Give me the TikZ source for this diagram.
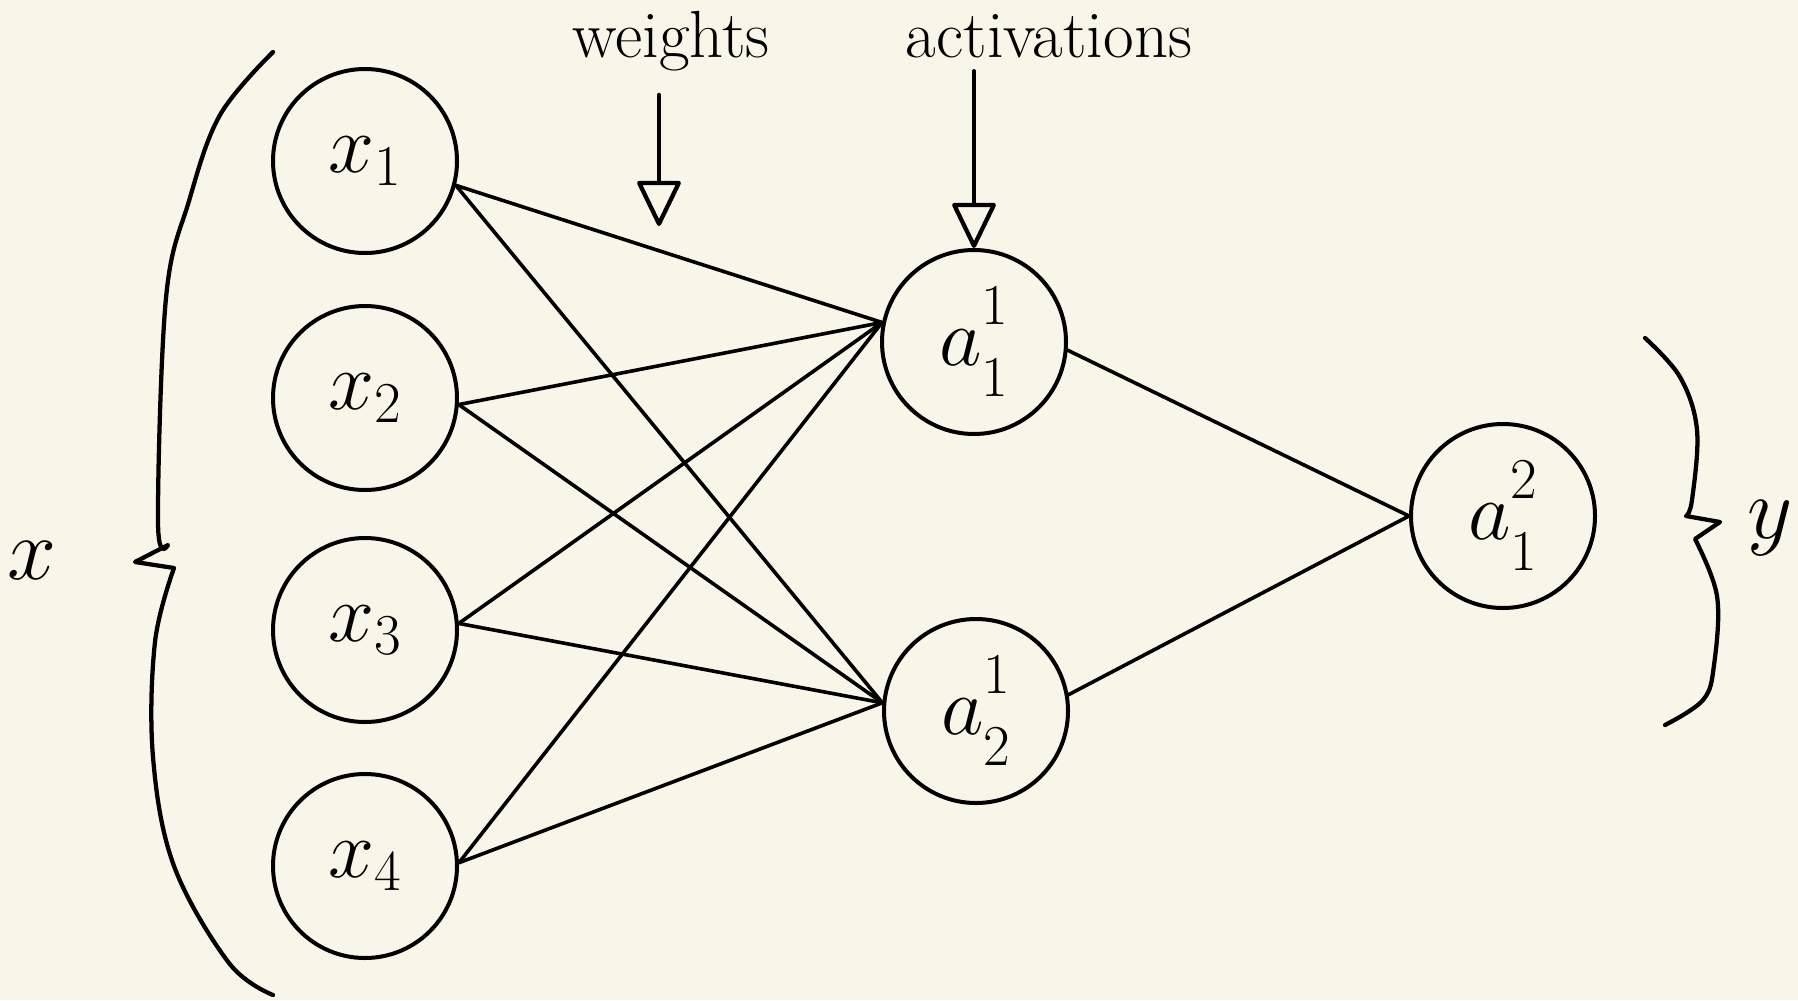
\RequirePackage{fix-cm}
\documentclass[tikz,border=0pt]{standalone}
\usetikzlibrary{arrows.meta}
\definecolor{paper}{RGB}{248,246,233}
\newcommand{\actlabel}[3]{$#1^{\raisebox{8pt}{$\scriptstyle #2$}}_{\raisebox{-8pt}{$\scriptstyle #3$}}$}
\tikzset{
  neuron/.style={circle, draw, line width=3pt, minimum size=138pt, inner sep=0pt, font=\fontsize{62}{66}\selectfont},
  link/.style={line width=2.7pt, line cap=round},
  brace/.style={line width=3.2pt, line cap=round, line join=round},
  pointer/.style={line width=3.2pt, line cap=round, -{Triangle[open, length=36pt, width=34pt, line join=round]}},
  caption/.style={font=\fontsize{50}{56}\selectfont, inner sep=0pt, anchor=base},
  letter/.style={font=\fontsize{66}{70}\selectfont, inner sep=0pt, anchor=base}
}
\begin{document}
\begin{tikzpicture}[x=0.75pt,y=0.75pt,yscale=-1,xscale=1]
\fill [paper] (0,0) rectangle (1798,1000);
\useasboundingbox (0,0) rectangle (1798,1000);

% Input layer
\node [neuron] (x1) at (365,161) {$x_1$};
\node [neuron] (x2) at (365,398) {$x_2$};
\node [neuron] (x3) at (365,630) {$x_3$};
\node [neuron] (x4) at (365,866) {$x_4$};
% Hidden layer
\node [neuron] (a11) at (974,342) {\actlabel{a}{1}{1}};
\node [neuron] (a12) at (976,711) {\actlabel{a}{1}{2}};
% Output layer
\node [neuron] (a21) at (1503,516) {\actlabel{a}{2}{1}};

% Weights
\draw [link] (x1.-15) -- (a11.168);
\draw [link] (x1.-15) -- (a12.175);
\draw [link] (x2.-4) -- (a11.168);
\draw [link] (x2.-4) -- (a12.175);
\draw [link] (x3.4) -- (a11.168);
\draw [link] (x3.4) -- (a12.175);
\draw [link] (x4.2) -- (a11.168);
\draw [link] (x4.2) -- (a12.175);
\draw [link] (a11.-5) -- (a21.west);
\draw [link] (a12.10) -- (a21.west);

% Text Node
\node [caption] (weights) at (671,57) {weights};
% Text Node
\node [caption] (activations) at (1049,57) {activations};
% Text Node
\node [letter] (xlab) at (32,579) {$x$};
% Text Node
\node [letter] (ylab) at (1770,538) {$y$};

% Pointers
\coordinate (wtip) at (659,226);
\draw [pointer, shorten <=18pt] (weights.south -| wtip) -- (wtip);
\draw [pointer, shorten <=10pt] (activations.south -| a11.north) -- (a11.north);

% Braces
\draw [brace] plot [smooth, tension=0.6] coordinates {(273,52) (220,115) (189,201) (166,298) (158,522) (168,545)}
  -- (135,562) -- plot [smooth, tension=0.6] coordinates {(174,568) (155,642) (153,757) (174,866) (229,963) (273,995)};
\draw [brace] plot [smooth, tension=0.6] coordinates {(1645,338) (1680,377) (1697,430) (1692,500) (1686,516)}
  -- (1720,522) -- plot [smooth, tension=0.6] coordinates {(1695,539) (1717,596) (1714,665) (1703,700) (1665,725)};
\end{tikzpicture}
\end{document}
